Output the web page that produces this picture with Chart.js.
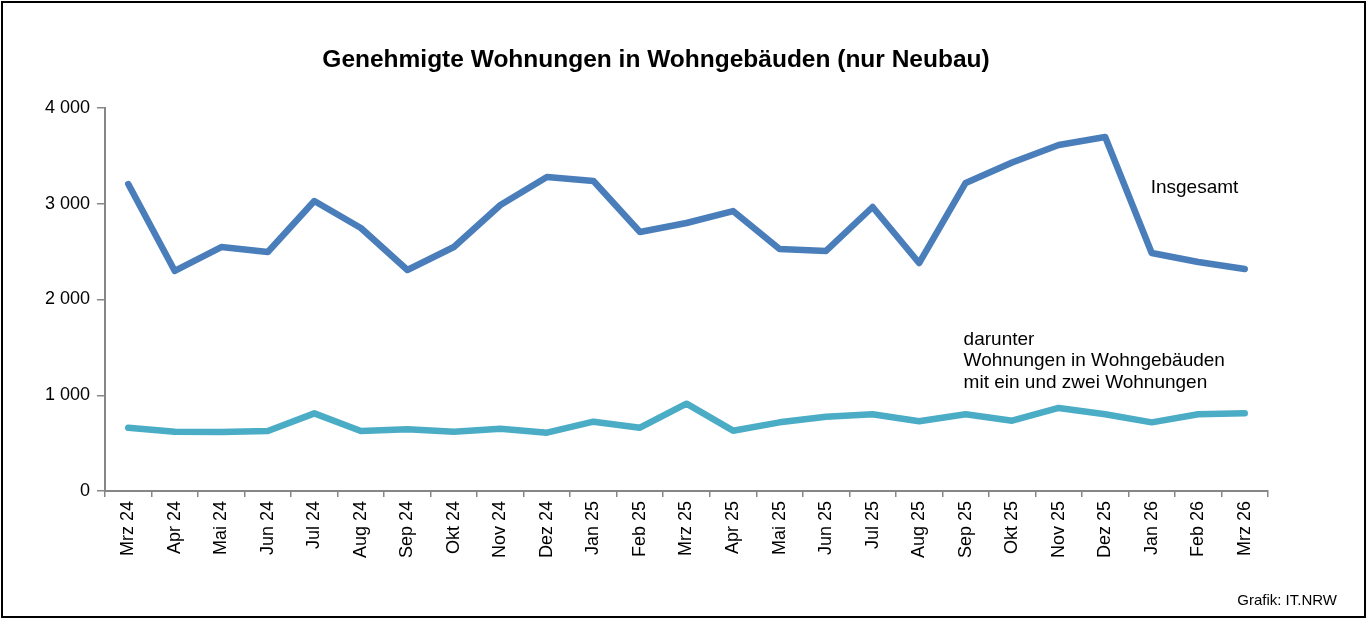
<!DOCTYPE html>
<html>
<head>
<meta charset="utf-8">
<script src="https://cdn.jsdelivr.net/npm/chart.js@4/dist/chart.umd.min.js"></script>
<style>
  html, body { margin: 0; padding: 0; background: #fff; }
  #wrap { width: 1370px; height: 620px; }
</style>
</head>
<body>
<div id="wrap"><canvas id="chart" width="1370" height="620"></canvas></div>
<script>
const months = ["Mrz 24", "Apr 24", "Mai 24", "Jun 24", "Jul 24", "Aug 24", "Sep 24", "Okt 24", "Nov 24", "Dez 24",
    "Jan 25", "Feb 25", "Mrz 25", "Apr 25", "Mai 25", "Jun 25", "Jul 25", "Aug 25", "Sep 25", "Okt 25",
    "Nov 25", "Dez 25", "Jan 26", "Feb 26", "Mrz 26"];
const insgesamt = [3206, 2298, 2548, 2496, 3029, 2747, 2308, 2548, 2987, 3279,
    3238, 2705, 2799, 2924, 2527, 2507, 2966, 2381, 3217, 3430,
    3614, 3697, 2486, 2392, 2319];
const einZweiWhg = [661, 619, 616, 627, 811, 627, 644, 619, 651, 609,
    724, 661, 912, 630, 717, 776, 801, 728, 801, 734,
    867, 801, 717, 801, 811];
const yTicks = [0, 1000, 2000, 3000, 4000];

const fontFamily = "'Liberation Sans', Arial, sans-serif";
const axisGray = "#868686";

const fmt = (v) => String(v).replace(/\B(?=(\d{3})+(?!\d))/g, " ");

// frame, title, series labels and source note
const extras = {
    id: "extras",
    afterDraw(chart) {
        const ctx = chart.ctx;
        const x = chart.scales.x, y = chart.scales.y;
        ctx.save();
        ctx.strokeStyle = "#000";
        ctx.lineWidth = 2;
        ctx.strokeRect(2, 2, 1363, 615);

        ctx.fillStyle = "#000";
        ctx.textBaseline = "middle";
        ctx.textAlign = "center";
        ctx.font = "bold 24.5px " + fontFamily;
        ctx.fillText("Genehmigte Wohnungen in Wohngebäuden (nur Neubau)", 656, 60);

        ctx.font = "19px " + fontFamily;
        ctx.textAlign = "left";
        ctx.fillText("Insgesamt", x.getPixelForValue(22) - 1, y.getPixelForValue(3165));
        const lx = x.getPixelForValue(18) - 2;
        ctx.fillText("darunter", lx, y.getPixelForValue(1575));
        ctx.fillText("Wohnungen in Wohngebäuden", lx, y.getPixelForValue(1355));
        ctx.fillText("mit ein und zwei Wohnungen", lx, y.getPixelForValue(1135));

        ctx.font = "15px " + fontFamily;
        ctx.textAlign = "right";
        ctx.fillText("Grafik: IT.NRW", 1337, 601);
        ctx.restore();
    }
};

new Chart(document.getElementById("chart"), {
    type: "line",
    data: {
        labels: months,
        datasets: [
            {
                label: "Insgesamt",
                data: insgesamt,
                borderColor: "#4a7ebb",
                borderWidth: 6.5,
                pointRadius: 0,
                tension: 0,
                borderCapStyle: "round",
                borderJoinStyle: "round",
            },
            {
                label: "darunter Wohnungen in Wohngebäuden mit ein und zwei Wohnungen",
                data: einZweiWhg,
                borderColor: "#4bacc6",
                borderWidth: 6.5,
                pointRadius: 0,
                tension: 0,
                borderCapStyle: "round",
                borderJoinStyle: "round",
            },
        ],
    },
    options: {
        responsive: false,
        animation: false,
        layout: { padding: { left: 0, right: 102, top: 108, bottom: 0 } },
        plugins: {
            legend: { display: false },
            tooltip: { enabled: false },
            title: { display: false },
        },
        scales: {
            x: {
                offset: true,
                grid: { display: true, offset: true, drawOnChartArea: false, tickLength: 6, color: axisGray, lineWidth: 1.5 },
                border: { display: true, color: axisGray, width: 2 },
                ticks: {
                    autoSkip: false,
                    maxRotation: 90,
                    minRotation: 90,
                    padding: 4,
                    color: "#000",
                    font: { family: fontFamily, size: 18 },
                },
                afterFit(scale) { scale.height = 129; },
            },
            y: {
                min: 0,
                max: 4000,
                afterBuildTicks(scale) { scale.ticks = yTicks.map((v) => ({ value: v })); },
                grid: { display: true, drawOnChartArea: false, tickLength: 8, color: axisGray, lineWidth: 1.5 },
                border: { display: true, color: axisGray, width: 2 },
                ticks: {
                    padding: 7,
                    color: "#000",
                    font: { family: fontFamily, size: 18 },
                    callback: (v) => fmt(v),
                },
                afterFit(scale) { scale.width = 105; },
            },
        },
    },
    plugins: [extras],
});
</script>
</body>
</html>
